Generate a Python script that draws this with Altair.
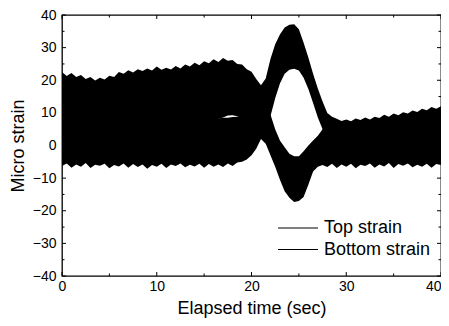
import altair as alt
import numpy as np
import pandas as pd

# sample times (s), every 0.5 s
t = np.arange(0, 40.5, 0.5)

# envelopes of the vibration band (micro strain)
top_hi = [22.5, 21.3, 22.2, 21.0, 21.6, 20.4, 21.0, 19.9, 20.8, 20.2,
          21.4, 21.0, 22.5, 22.0, 23.1, 22.4, 23.4, 22.8, 23.6, 23.0,
          24.2, 23.2, 23.8, 23.3, 24.4, 23.6, 24.8, 24.2, 25.4, 24.6,
          25.8, 25.2, 26.4, 25.6, 26.8, 26.0, 26.2, 25.0, 24.8, 23.4,
          22.6, 20.4, 18.5, 20.5, 26.5, 31.0, 34.0, 36.2, 37.0, 37.2,
          35.6, 31.5, 27.0, 22.0, 17.5, 13.5, 10.0, 8.8, 8.2, 7.5,
          8.0, 7.4, 8.3, 7.8, 8.6, 8.0, 8.8, 8.4, 9.4, 8.8,
          9.8, 9.3, 10.2, 9.8, 10.7, 10.3, 11.3, 10.8, 11.8, 11.3,
          12.0]
top_lo = [-4.6, -4.1, -4.8, -4.3, -4.7, -4.0, -4.9, -4.4, -4.6, -4.2,
          -4.8, -4.1, -4.5, -4.3, -4.9, -4.2, -4.6, -4.0, -4.7, -4.4,
          -4.8, -4.1, -4.5, -4.3, -4.6, -3.8, -3.0, -1.5, 0.5,
          3.0, 5.0, 6.8, 7.8, 8.1, 8.6, 9.2, 9.3, 9.0, 8.0,
          6.0, 4.5, 3.5, 3.0, 6.0, 9.0, 14.5, 19.0, 22.0, 23.2,
          23.5, 23.0, 20.8, 17.3, 13.0, 8.6, 5.0, 2.0, -1.0, -3.0,
          -4.0,
          -4.2, -4.6, -4.1, -4.7, -4.3, -4.5, -4.0, -4.6, -4.2, -4.8,
          -4.1, -4.5, -4.3, -4.7, -4.0, -4.4, -4.2, -4.6, -4.1, -4.5,
          -4.3]
bot_hi = [19.4, 18.9, 19.6, 18.8, 19.2, 18.6, 19.0, 18.5, 19.3, 18.7,
          19.5, 19.0, 19.8, 19.2, 20.0, 19.4, 20.1, 19.6, 20.3, 19.8,
          20.5, 19.9, 20.4, 19.7, 20.2, 19.0, 17.5, 16.0, 14.0,
          12.0, 10.5, 9.3, 8.6, 8.3, 8.5, 8.5, 8.7, 8.8, 9.2,
          11.5, 13.5, 15.5, 16.5, 12.0, 9.5, 5.0, 1.5, -0.5, -2.5,
          -3.3, -3.3, -1.8, 0.0, 1.5, 3.0, 5.0, 6.5, 7.0, 7.2,
          7.0,
          7.0, 6.8, 7.1, 6.9, 7.3, 7.0, 7.5, 7.2, 7.8, 7.5,
          8.0, 7.8, 8.3, 8.0, 8.6, 8.4, 9.0, 8.8, 9.4, 9.2,
          9.8]
bot_lo = [-6.3, -5.5, -6.8, -5.8, -6.5, -5.4, -6.9, -5.9, -6.2, -5.6,
          -7.0, -6.0, -6.4, -5.5, -6.8, -5.7, -6.6, -5.8, -7.1, -6.0,
          -6.5, -5.6, -6.9, -5.8, -6.3, -5.5, -6.7, -5.9, -6.4, -5.6,
          -6.8, -5.7, -6.5, -5.8, -6.6, -5.5, -6.3, -5.2, -5.0,
          -4.3, -3.0, -1.0, 2.0, 0.5, -3.0, -6.5, -10.5, -14.0, -16.0,
          -17.3, -17.0, -15.8, -12.0, -8.0, -6.5, -6.0, -6.6, -5.6, -6.9,
          -5.8,
          -6.5, -5.6, -7.0, -5.9, -6.3, -5.5, -6.8, -5.8, -6.4, -5.4,
          -6.9, -5.7, -6.2, -5.5, -6.7, -5.9, -6.5, -5.6, -6.8, -5.7,
          -6.0]

series_names = ["Top strain", "Bottom strain"]

x_major = [0, 10, 20, 30, 40]
x_minor = [5, 15, 25, 35]
y_major = [-40, -30, -20, -10, 0, 10, 20, 30, 40]
y_minor = [-35, -25, -15, -5, 5, 15, 25, 35]

for arr in (top_hi, top_lo, bot_hi, bot_lo):
    assert len(arr) == len(t), len(arr)

df = pd.concat([
    pd.DataFrame({"t": t, "hi": top_hi, "lo": top_lo, "series": series_names[0]}),
    pd.DataFrame({"t": t, "hi": bot_hi, "lo": bot_lo, "series": series_names[1]}),
])

W, H = 379, 261
FONT = "Liberation Sans"
xscale = alt.Scale(domain=[0, 40], nice=False, zero=False)
yscale = alt.Scale(domain=[-40, 40], nice=False, zero=False)
x_axis = alt.Axis(values=x_major, title="Elapsed time (sec)", labelPadding=3,
                  titlePadding=6, format="d",
                  labelAlign={"condition": {"test": "datum.value === 40", "value": "right"},
                              "value": "center"})
y_axis = alt.Axis(values=y_major, title="Micro strain", labelPadding=6,
                  titlePadding=5, format="d")

bands = alt.Chart(df).mark_area(color="black", opacity=1, strokeWidth=0).encode(
    x=alt.X("t:Q", scale=xscale, axis=x_axis),
    y=alt.Y("hi:Q", scale=yscale, stack=None, axis=y_axis),
    y2="lo:Q",
    color=alt.Color("series:N", sort=series_names,
                    scale=alt.Scale(domain=series_names, range=["black", "black"]),
                    legend=alt.Legend(title=None, orient="none", legendX=227, legendY=204,
                                      symbolType="M-5,0H5", symbolSize=64,
                                      symbolStrokeWidth=1, symbolStrokeColor="black",
                                      symbolFillColor="black",
                                      labelFont=FONT, labelFontSize=18, labelColor="black",
                                      labelOffset=17, rowPadding=3.5, padding=0)),
)


def xticks(vals, length, top):
    d = pd.DataFrame({"v": vals})
    y0 = 0 if top else H
    y1 = length if top else H - length
    return alt.Chart(d).mark_rule(color="black", strokeWidth=1).encode(
        x=alt.X("v:Q", scale=xscale, axis=x_axis), y=alt.value(y0), y2=alt.value(y1))


def yticks(vals, length, right):
    d = pd.DataFrame({"v": vals})
    x0 = W if right else 0
    x1 = W - length if right else length
    return alt.Chart(d).mark_rule(color="black", strokeWidth=1).encode(
        y=alt.Y("v:Q", scale=yscale, axis=y_axis), x=alt.value(x0), x2=alt.value(x1))


ticks = [
    xticks(x_major, 4, False), xticks(x_minor, 2.5, False),
    xticks(x_major, 4, True), xticks(x_minor, 2.5, True),
    yticks(y_major, 4, False), yticks(y_minor, 2.5, False),
    yticks(y_major, 4, True), yticks(y_minor, 2.5, True),
]

chart = alt.layer(bands, *ticks).properties(
    width=W, height=H,
    autosize=alt.AutoSizeParams(type="none"),
    padding={"left": 54, "top": 7, "right": 0, "bottom": 42},
).configure_view(
    stroke="black", strokeWidth=1.3
).configure_axis(
    grid=False, domain=False, ticks=False,
    labelFont=FONT, labelFontSize=14, labelColor="black",
    titleFont=FONT, titleFontSize=18, titleFontWeight="normal", titleColor="black",
)

chart.save("out.html", embed_options={"renderer": "svg", "actions": False})
